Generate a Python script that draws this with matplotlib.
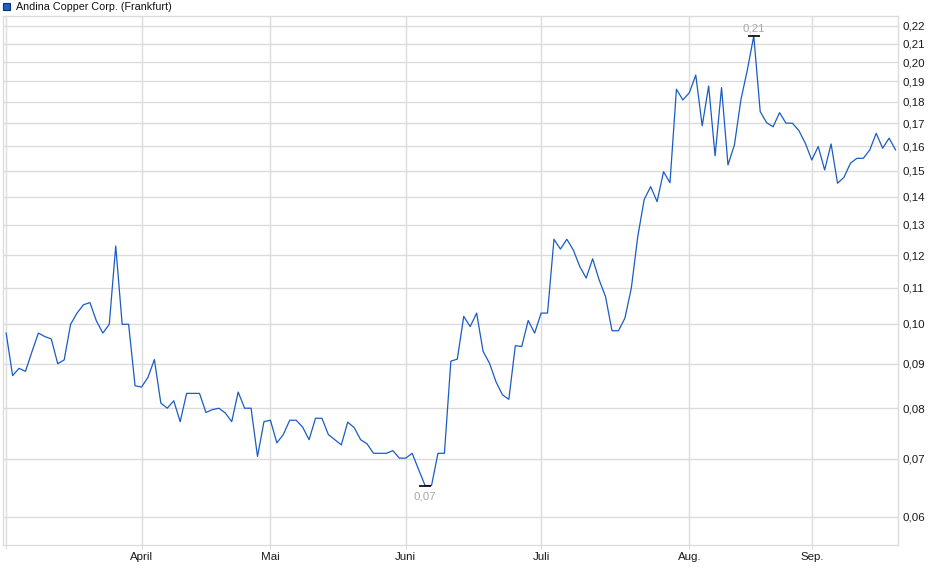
import numpy as np
import matplotlib
matplotlib.use("Agg")
import matplotlib.pyplot as plt
from matplotlib.ticker import FixedLocator, FuncFormatter, NullLocator
from matplotlib.patches import Rectangle

plt.rcParams['font.family'] = ['Liberation Sans', 'DejaVu Sans']

title = "Andina Copper Corp. (Frankfurt)"

# daily closing prices (EUR), one value per trading day
prices = [
    0.0976, 0.0872, 0.0889, 0.0882, 0.0929, 0.0976, 0.0967, 0.0961, 0.0900, 0.0909,
    0.0999, 0.1029, 0.1052, 0.1058, 0.1008, 0.0976, 0.0999, 0.1229, 0.0999, 0.0999,
    0.0849, 0.0846, 0.0868, 0.0910, 0.0811, 0.0800, 0.0816, 0.0772, 0.0832, 0.0832,
    0.0832, 0.0791, 0.0797, 0.0800, 0.0790, 0.0772, 0.0835, 0.0800, 0.0800, 0.0704,
    0.0772, 0.0775, 0.0730, 0.0746, 0.0775, 0.0775, 0.0761, 0.0736, 0.0779, 0.0779,
    0.0746, 0.0736, 0.0726, 0.0771, 0.0760, 0.0736, 0.0728, 0.0710, 0.0710, 0.0710,
    0.0715, 0.0701, 0.0701, 0.0710, 0.0680, 0.0652, 0.0652, 0.0710, 0.0710, 0.0906,
    0.0911, 0.1020, 0.0993, 0.1029, 0.0930, 0.0901, 0.0858, 0.0829, 0.0819, 0.0944,
    0.0942, 0.1009, 0.0976, 0.1029, 0.1029, 0.1251, 0.1219, 0.1251, 0.1216, 0.1164,
    0.1129, 0.1188, 0.1124, 0.1075, 0.0982, 0.0982, 0.1015, 0.1099, 0.1260, 0.1390,
    0.1438, 0.1382, 0.1496, 0.1453, 0.1861, 0.1809, 0.1844, 0.1932, 0.1689, 0.1877,
    0.1560, 0.1869, 0.1523, 0.1606, 0.1809, 0.1958, 0.2143, 0.1754, 0.1703, 0.1685,
    0.1749, 0.1701, 0.1701, 0.1668, 0.1613, 0.1543, 0.1599, 0.1503, 0.1610, 0.1451,
    0.1474, 0.1530, 0.1550, 0.1550, 0.1585, 0.1656, 0.1592, 0.1635, 0.1585,
]

# trading-day index where each month starts
month_pos = [0, 21, 41, 62, 83, 106, 125]
month_labels = ["", "April", "Mai", "Juni", "Juli", "Aug.", "Sep."]

y_ticks = [0.06, 0.07, 0.08, 0.09, 0.10, 0.11, 0.12, 0.13, 0.14, 0.15,
           0.16, 0.17, 0.18, 0.19, 0.20, 0.21, 0.22]

line_color = "#1a5cc4"
grid_color = "#dcdcdc"

fig = plt.figure(figsize=(9.4, 5.79), dpi=100)
ax = fig.add_axes([3 / 940, 34 / 579, 895 / 940, 529 / 579])

x = np.arange(len(prices))
y = np.array(prices)
ax.plot(x, y, color=line_color, linewidth=0.9, zorder=3)

ax.set_yscale("log")
ax.set_ylim(0.0557, 0.2259)
ax.set_xlim(-0.49, len(prices) - 1 + 0.38)

ax.yaxis.set_major_locator(FixedLocator(y_ticks))
ax.yaxis.set_minor_locator(NullLocator())
ax.yaxis.set_major_formatter(FuncFormatter(lambda v, p: f"{v:.2f}".replace(".", ",")))
ax.yaxis.tick_right()
ax.tick_params(axis="y", length=0, pad=3.5, labelsize=8.25, labelcolor="#1a1a1a")

ax.xaxis.set_major_locator(FixedLocator(month_pos))
ax.set_xticklabels(month_labels)
ax.tick_params(axis="x", length=3, color=grid_color, pad=2, labelsize=8.25, labelcolor="#1a1a1a")

ax.grid(True, which="major", color=grid_color, linewidth=1.0)
ax.set_axisbelow(True)
for s in ax.spines.values():
    s.set_color(grid_color)
    s.set_linewidth(1.0)

# max / min markers
imax = int(np.argmax(y))
imin = int(np.argmin(y))
ax.plot([imax], [y[imax]], marker="_", markersize=9, color="black", mew=1.2, zorder=4)
ax.plot([imin], [y[imin]], marker="_", markersize=9, color="black", mew=1.2, zorder=4)
ax.annotate(f"{y[imax]:.2f}".replace(".", ","), (imax, y[imax]), xytext=(0, 2),
            textcoords="offset points", ha="center", va="bottom",
            fontsize=8.25, color="#a8a8a8")
ax.annotate(f"{y[imin]:.2f}".replace(".", ","), (imin, y[imin]), xytext=(0, -4.5),
            textcoords="offset points", ha="center", va="top",
            fontsize=8.25, color="#a8a8a8")

# legend box top-left
fig.patches.append(Rectangle((3.3 / 940, 1 - 9.5 / 579), 6.7 / 940, 6.5 / 579,
                             transform=fig.transFigure, facecolor="#1f5fc8",
                             edgecolor="#0d2f6b", linewidth=0.8))
fig.text(16 / 940, 1 - 6.5 / 579, title, ha="left", va="center",
         fontsize=7.75, color="#111111")

fig.savefig("out.png", dpi=100)
